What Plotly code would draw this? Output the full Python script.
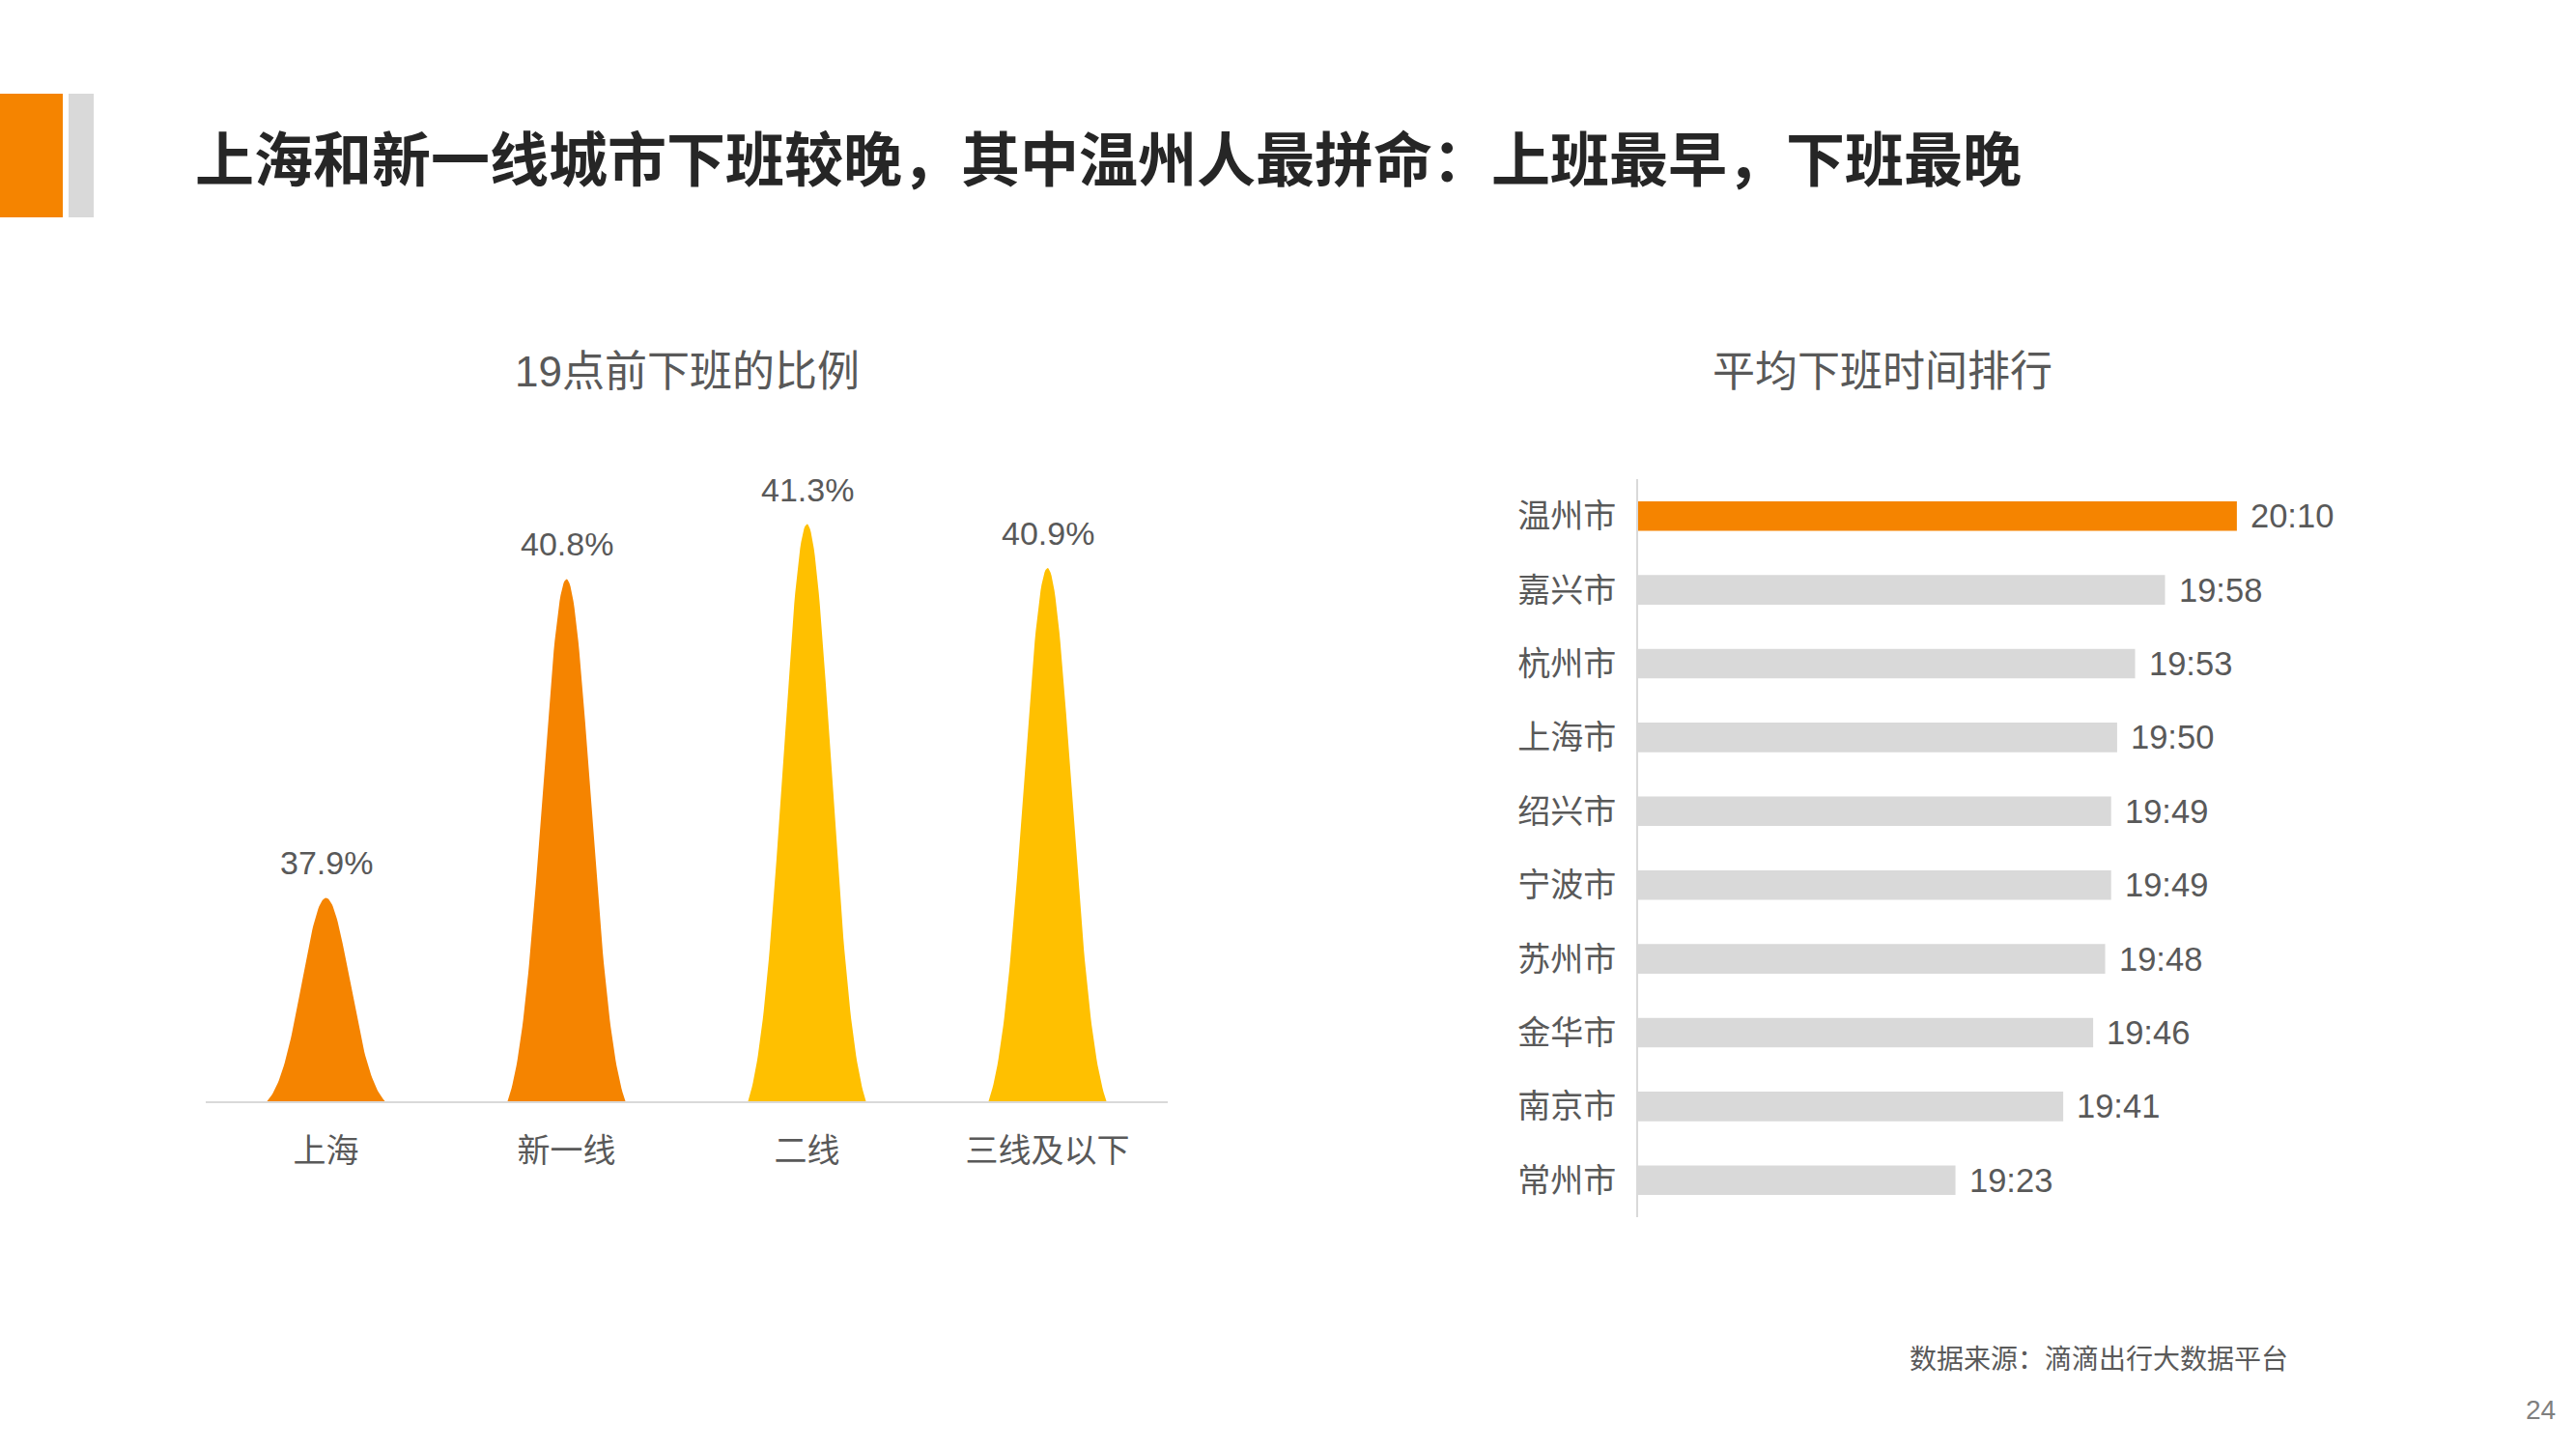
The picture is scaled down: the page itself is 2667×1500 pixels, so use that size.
import numpy as np
import plotly.graph_objects as go

# left chart: share leaving work before 19:00
tier_names = ["上海", "新一线", "二线", "三线及以下"]
tier_share = [37.9, 40.8, 41.3, 40.9]
tier_labels = ["37.9%", "40.8%", "41.3%", "40.9%"]

# right chart: average time leaving work
city_names = ["温州市", "嘉兴市", "杭州市", "上海市", "绍兴市",
              "宁波市", "苏州市", "金华市", "南京市", "常州市"]
city_times = ["20:10", "19:58", "19:53", "19:50", "19:49",
              "19:49", "19:48", "19:46", "19:41", "19:23"]

W, H = 2667, 1500
FONT = "Liberation Sans, Noto Sans CJK SC, sans-serif"
TXT = "#595959"
ORANGE = "#F58400"
YELLOW = "#FFC000"
GRAY = "#D9D9D9"


def to_minutes(t):
    h, m = t.split(":")
    return int(h) * 60 + int(m)


city_minutes = [to_minutes(t) for t in city_times]

# axis setup
y_min, y_max = 36.05, 41.85
x2_min, x2_max = 1110, 1239.7

fig = go.Figure()

# peak shapes, one filled polygon per tier
peak_colors = [ORANGE, ORANGE, YELLOW, YELLOW]
s = np.linspace(-1, 1, 121)
k = 3.0
prof = (np.exp(-k * s ** 2) - np.exp(-k)) / (1 - np.exp(-k))
half_w = 0.245
for i, (name, v) in enumerate(zip(tier_names, tier_share)):
    xs = i + half_w * s
    ys = y_min + (v - y_min) * prof
    fig.add_trace(go.Scatter(
        x=xs, y=ys, mode="lines", fill="toself",
        fillcolor=peak_colors[i], line=dict(width=0, color=peak_colors[i]),
        hoverinfo="skip", showlegend=False, xaxis="x", yaxis="y",
    ))
    fig.add_annotation(
        x=i, y=v, xref="x", yref="y", text=tier_labels[i],
        showarrow=False, yanchor="middle", yshift=36,
        font=dict(size=34, color=TXT, family=FONT),
    )

# ranking bars
bar_colors = [ORANGE] + [GRAY] * (len(city_names) - 1)
fig.add_trace(go.Bar(
    x=[m - x2_min for m in city_minutes], base=x2_min, y=city_names,
    orientation="h", marker=dict(color=bar_colors, line=dict(width=0)),
    width=0.4, hoverinfo="skip", showlegend=False,
    xaxis="x2", yaxis="y2",
))
for name, t, m in zip(city_names, city_times, city_minutes):
    fig.add_annotation(
        x=m, y=name, xref="x2", yref="y2", text=t,
        showarrow=False, xanchor="left", xshift=12,
        font=dict(size=34.5, color=TXT, family=FONT),
    )

# header decoration
fig.add_shape(type="rect", xref="paper", yref="paper",
              x0=0, x1=65 / W, y0=1 - 225 / H, y1=1 - 97 / H,
              fillcolor=ORANGE, line=dict(width=0))
fig.add_shape(type="rect", xref="paper", yref="paper",
              x0=71 / W, x1=97 / W, y0=1 - 225 / H, y1=1 - 97 / H,
              fillcolor=GRAY, line=dict(width=0))

texts = [
    # text, x px, y px, anchor, size, color, bold
    ("上海和新一线城市下班较晚，其中温州人最拼命：上班最早，下班最晚", 200, 167, "left", 61, "#262626", True),
    ("19点前下班的比例", 711, 384, "center", 44, TXT, False),
    ("平均下班时间排行", 1949, 384, "center", 44, TXT, False),
    ("数据来源：滴滴出行大数据平台", 1975, 1407, "left", 28, TXT, False),
    ("24", 2630, 1459, "center", 28, "#7F7F7F", False),
]
for text, px, py, anchor, size, color, bold in texts:
    fig.add_annotation(
        x=px / W, y=1 - py / H, xref="paper", yref="paper",
        text=f"<b>{text}</b>" if bold else text,
        showarrow=False, xanchor=anchor, yanchor="middle",
        font=dict(size=size, color=color, family=FONT),
    )

fig.update_layout(
    width=W, height=H,
    margin=dict(l=0, r=0, t=0, b=0),
    paper_bgcolor="white", plot_bgcolor="white",
    showlegend=False,
    font=dict(family=FONT, color=TXT),
    xaxis=dict(
        domain=[213 / W, 1209 / W], range=[-0.5, 3.5],
        tickvals=list(range(len(tier_names))), ticktext=tier_names,
        showgrid=False, zeroline=False, showline=True,
        linecolor=GRAY, linewidth=2, ticks="", ticklabelstandoff=20,
        tickfont=dict(size=34, color=TXT, family=FONT),
        fixedrange=True,
    ),
    yaxis=dict(
        domain=[1 - 1140 / H, 1 - 480 / H], range=[y_min, y_max],
        visible=False, fixedrange=True,
    ),
    xaxis2=dict(
        domain=[1696 / W, 2500 / W], range=[x2_min, x2_max],
        anchor="y2", visible=False, fixedrange=True,
    ),
    yaxis2=dict(
        domain=[1 - 1260 / H, 1 - 496 / H], anchor="x2",
        type="category", autorange="reversed",
        showgrid=False, zeroline=False, showline=True,
        linecolor=GRAY, linewidth=2, ticks="", ticklabelstandoff=14,
        tickfont=dict(size=34, color=TXT, family=FONT),
        fixedrange=True,
    ),
)

# page body has a default 8px margin, drop it so the figure sits at 0,0
fig.write_html("out.html", config={"displayModeBar": False},
               post_script="document.body.style.margin = '0';")
